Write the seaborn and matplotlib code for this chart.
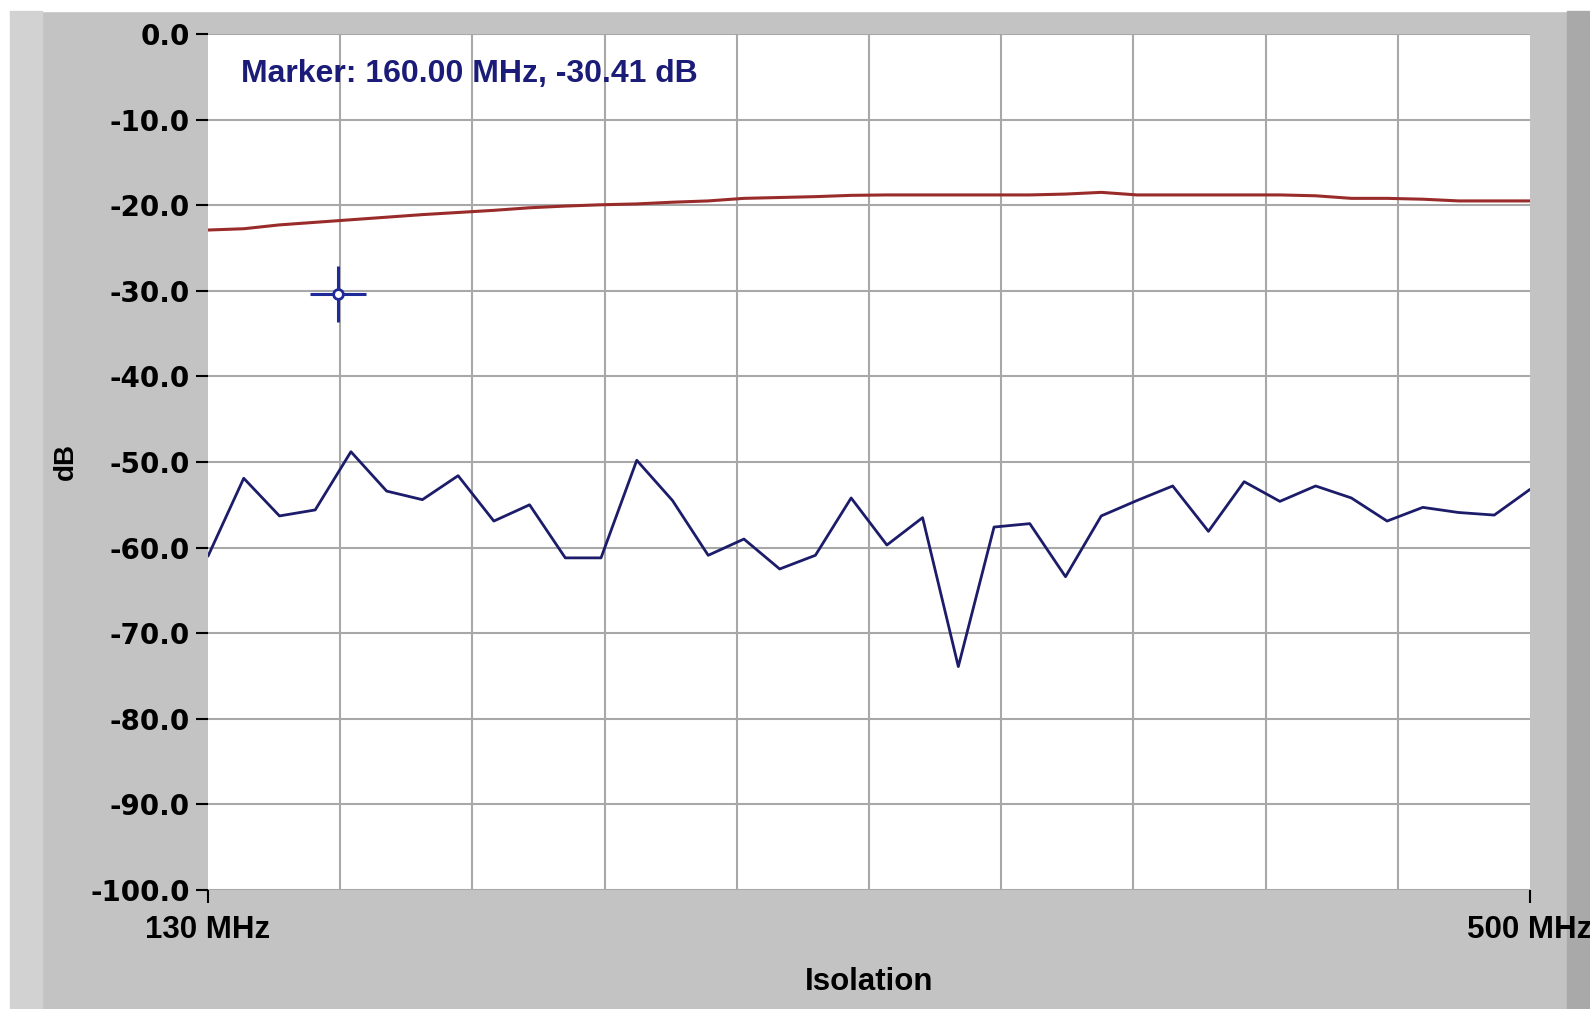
import matplotlib
matplotlib.use("Agg")
import matplotlib.pyplot as plt
import matplotlib.patches as mpatches
import seaborn as sns
import numpy as np

# Frequency points (MHz), one every 10 MHz
freq_mhz = [130, 140, 150, 160, 170, 180, 190, 200, 210, 220,
            230, 240, 250, 260, 270, 280, 290, 300, 310, 320,
            330, 340, 350, 360, 370, 380, 390, 400, 410, 420,
            430, 440, 450, 460, 470, 480, 490, 500]

# Isolation trace (blue) in dB
isolation_db = [-61.0, -51.9, -56.3, -55.6, -48.8, -53.4, -54.4, -51.6, -56.9, -55.0,
                -61.2, -61.2, -49.8, -54.5, -60.9, -59.0, -62.5, -60.9, -54.2, -59.7,
                -56.5, -73.9, -57.6, -57.2, -63.4, -56.3, -54.5, -52.8, -58.1, -52.3,
                -54.6, -52.8, -54.2, -56.9, -55.3, -55.9, -56.2, -53.2]

# Reference trace (red) in dB
reference_db = [-22.9, -22.75, -22.3, -22.0, -21.7, -21.4, -21.1, -20.85, -20.6, -20.3,
                -20.1, -19.95, -19.85, -19.65, -19.5, -19.2, -19.1, -19.0, -18.85, -18.8,
                -18.8, -18.8, -18.8, -18.8, -18.7, -18.5, -18.8, -18.8, -18.8, -18.8,
                -18.8, -18.9, -19.2, -19.2, -19.3, -19.5, -19.5, -19.5]

# Marker readout
marker_freq = 166.5
marker_db = -30.41
marker_text = "Marker: 160.00 MHz, -30.41 dB"

y_ticks = [0, -10, -20, -30, -40, -50, -60, -70, -80, -90, -100]
x_range = [130, 500]
x_tick_labels = ["130 MHz", "500 MHz"]

sns.set_theme(style="white")
plt.rcParams['font.family'] = ['Liberation Sans', 'DejaVu Sans']

fig = plt.figure(figsize=(15.9, 10.09), dpi=100, facecolor="#c3c3c3")

# window frame bits
W, H = 1590, 1009
def frame_rect(x0, y0, x1, y1, color):
    fig.patches.append(mpatches.Rectangle((x0 / W, 1 - y1 / H), (x1 - x0) / W, (y1 - y0) / H,
                                          transform=fig.transFigure, color=color, zorder=-5))
frame_rect(0, 0, W, 11, "white")
frame_rect(0, 0, 10, H, "white")
frame_rect(10, 11, 42, H, "#d2d2d2")
frame_rect(1567, 11, W, H, "#a9a9a9")

ax = fig.add_axes([208 / W, 1 - 890 / H, (1530 - 208) / W, (890 - 34) / H])
ax.set_facecolor("white")

sns.lineplot(x=freq_mhz, y=reference_db, ax=ax, color="#9a2b2b", linewidth=2.2, sort=False)
sns.lineplot(x=freq_mhz, y=isolation_db, ax=ax, color="#1c1c6a", linewidth=2.0, sort=False)

# marker crosshair
ax.plot([marker_freq], [marker_db], marker="+", markersize=40, markeredgewidth=2.2,
        color="#1f2a9a", linestyle="none", zorder=5)
ax.plot([marker_freq], [marker_db], marker="o", markersize=7, markeredgewidth=2,
        markerfacecolor="white", markeredgecolor="#1f2a9a", linestyle="none", zorder=6)

ax.text(0.025, 0.953, marker_text, transform=ax.transAxes, fontsize=23, fontweight="bold",
        color="#1b1b78", va="center", ha="left")

ax.set_xlim(x_range)
ax.set_ylim(-100, 0)

ax.set_yticks(y_ticks)
ax.set_yticklabels([f"{v:.1f}" for v in y_ticks], fontsize=20, fontweight="bold",
                   family="DejaVu Sans")
ax.set_xticks(x_range)
ax.set_xticklabels(x_tick_labels, fontsize=22.5, fontweight="bold")
ax.set_xticks(np.linspace(x_range[0], x_range[1], 11), minor=True)
ax.tick_params(axis="y", which="major", direction="out", length=9, width=1.5,
               colors="black", pad=4, left=True)
ax.tick_params(axis="x", which="major", direction="out", length=9, width=1.5,
               colors="black", pad=9, bottom=True)
ax.tick_params(axis="x", which="minor", length=0)

ax.grid(True, axis="y", which="major", color="#a8a8a8", linewidth=1.5)
ax.grid(True, axis="x", which="minor", color="#a8a8a8", linewidth=1.5)
ax.set_axisbelow(True)
for s in ax.spines.values():
    s.set_visible(False)

ax.set_ylabel("dB", fontsize=20, fontweight="bold", color="black", labelpad=8)
ax.set_xlabel("Isolation", fontsize=22.5, fontweight="bold", color="black", labelpad=16)

fig.savefig("out.png", dpi=100, facecolor=fig.get_facecolor())
